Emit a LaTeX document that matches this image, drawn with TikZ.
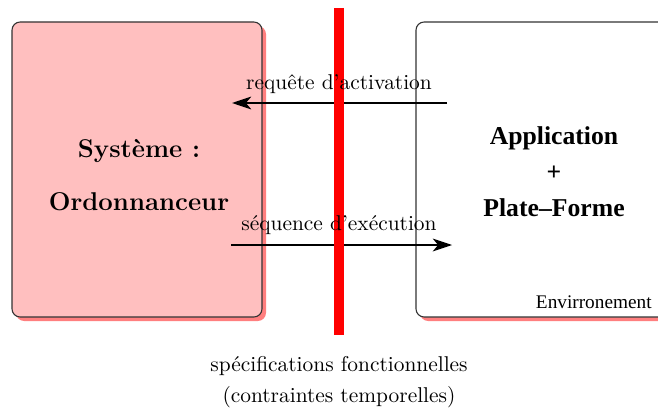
\documentclass[tikz,border=0pt]{standalone}
\usepackage{fontspec}
\newfontfamily\timesfont[Ligatures=TeX]{Liberation Serif}
\usetikzlibrary{arrows.meta}
\definecolor{boxpink}{HTML}{FFBFBF}
\definecolor{shadowred}{HTML}{FF7F7F}
\tikzset{
  panel/.style={draw=black!80, line width=0.5pt, rounded corners=3.8pt},
  panelshadow/.style={fill=shadowred, rounded corners=3.8pt},
  flow/.style={line width=0.7pt, -{Stealth[length=9pt,width=6pt,inset=2.5pt]}},
  flowlabel/.style={font=\normalsize, inner sep=1pt},
}
\begin{document}
\begin{tikzpicture}[x=0.467pt, y=-0.467pt]
\useasboundingbox (0,0) rectangle (658,408);
\begin{scope}
\clip (0,0) rectangle (658,408);
% system panel with its shadow
\fill[panelshadow] (16,26) rectangle (266,321);
\draw[panel, fill=boxpink] (12,22) rectangle (262,317);
% environment panel, running past the right edge
\fill[panelshadow] (420,26) rectangle (720,321);
\draw[panel, fill=white] (416,22) rectangle (710,317);
\end{scope}

\node[font=\large\bfseries, align=center] (sys) at (139,175)
  {Syst\`eme :\\[10.5pt]Ordonnanceur};
\node[font=\timesfont\fontsize{12}{16.8}\selectfont\bfseries, align=center] (env) at (554,172)
  {Application\\+\\Plate\textendash Forme};
\node[font=\timesfont\fontsize{9}{11}\selectfont, anchor=base east, inner sep=0pt] (envlabel) at (652,308)
  {Envirronement};

% message arrows between the two panels
\coordinate (reqstart) at (447,103);
\coordinate (reqend) at (232,103);
\coordinate (seqstart) at (231,245);
\coordinate (seqend) at (452,245);
\draw[flow] (reqstart) -- (reqend);
\draw[flow] (seqstart) -- (seqend);

% interface bar
\coordinate (bartop) at (339,8);
\coordinate (barbot) at (339,335);
\draw[red, line width=4.67pt] (bartop) -- (barbot);

\node[flowlabel] (reqlabel) at (339,84) {requ\^ete d'activation};
\node[flowlabel] (seqlabel) at (339,225) {s\'equence d'ex\'ecution};

\node[align=center, font=\normalsize] (spec) at (339,382)
  {sp\'ecifications fonctionnelles\\[2.6pt](contraintes temporelles)};
\end{tikzpicture}
\end{document}
